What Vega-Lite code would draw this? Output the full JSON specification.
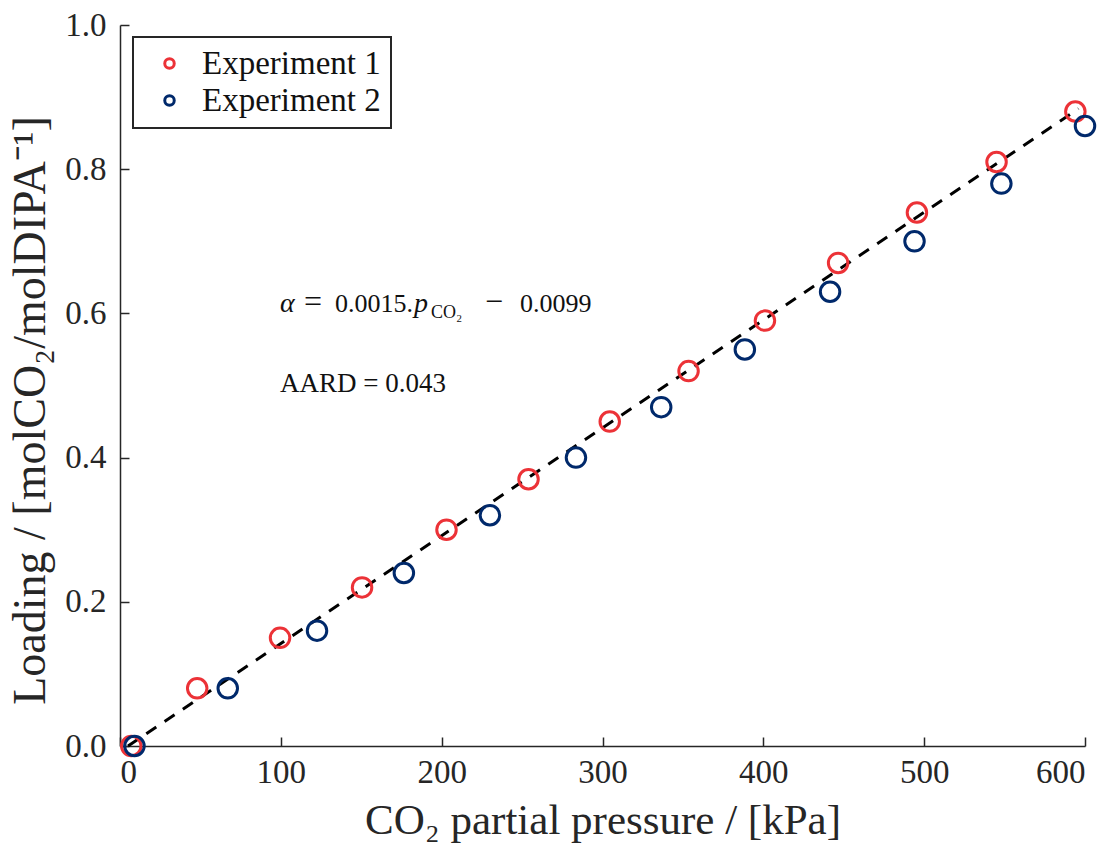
{
  "$schema": "https://vega.github.io/schema/vega-lite/v6.json",
  "autosize": {"type": "none"},
  "width": 965,
  "height": 721,
  "padding": {"left": 120, "top": 25, "right": 29, "bottom": 97},
  "background": "white",
  "config": {
    "view": {"stroke": null},
    "font": "Liberation Serif",
    "axis": {
      "grid": false,
      "domainColor": "#262626",
      "domainWidth": 1.5,
      "tickColor": "#262626",
      "tickWidth": 1.5,
      "tickSize": -9,
      "labelFont": "Liberation Serif",
      "labelFontSize": 33,
      "labelColor": "#262626",
      "titleFont": "Liberation Serif",
      "titleFontSize": 43,
      "titleFontWeight": "normal",
      "titleColor": "#262626"
    },
    "legend": {
      "orient": "none",
      "legendX": 13,
      "legendY": 12,
      "strokeColor": "#262626",
      "strokeWidth": 2,
      "fillColor": "white",
      "padding": 10,
      "labelFont": "Liberation Serif",
      "labelFontSize": 33,
      "labelLimit": 400,
      "labelColor": "#111111",
      "title": null,
      "symbolStrokeWidth": 3,
      "symbolSize": 90,
      "symbolOffset": 10,
      "rowPadding": 3,
      "labelOffset": 16
    }
  },
  "datasets": {
    "points": [
      {"series": "Experiment 1", "pressure": 7, "loading": 0.0},
      {"series": "Experiment 1", "pressure": 48, "loading": 0.08},
      {"series": "Experiment 1", "pressure": 99.5, "loading": 0.15},
      {"series": "Experiment 1", "pressure": 150.5, "loading": 0.22},
      {"series": "Experiment 1", "pressure": 203, "loading": 0.30},
      {"series": "Experiment 1", "pressure": 254, "loading": 0.37},
      {"series": "Experiment 1", "pressure": 304.5, "loading": 0.45},
      {"series": "Experiment 1", "pressure": 353.5, "loading": 0.52},
      {"series": "Experiment 1", "pressure": 401, "loading": 0.59},
      {"series": "Experiment 1", "pressure": 446.5, "loading": 0.67},
      {"series": "Experiment 1", "pressure": 495.5, "loading": 0.74},
      {"series": "Experiment 1", "pressure": 545, "loading": 0.81},
      {"series": "Experiment 1", "pressure": 594, "loading": 0.88},
      {"series": "Experiment 2", "pressure": 9, "loading": 0.0},
      {"series": "Experiment 2", "pressure": 67, "loading": 0.08},
      {"series": "Experiment 2", "pressure": 122.5, "loading": 0.16},
      {"series": "Experiment 2", "pressure": 176.5, "loading": 0.24},
      {"series": "Experiment 2", "pressure": 230, "loading": 0.32},
      {"series": "Experiment 2", "pressure": 283.5, "loading": 0.40},
      {"series": "Experiment 2", "pressure": 336.5, "loading": 0.47},
      {"series": "Experiment 2", "pressure": 388.5, "loading": 0.55},
      {"series": "Experiment 2", "pressure": 441.5, "loading": 0.63},
      {"series": "Experiment 2", "pressure": 494, "loading": 0.70},
      {"series": "Experiment 2", "pressure": 548, "loading": 0.78},
      {"series": "Experiment 2", "pressure": 600, "loading": 0.86}
    ],
    "fit": [
      {"pressure": 5, "loading": 0.0},
      {"pressure": 596, "loading": 0.884}
    ]
  },
  "layer": [
    {
      "data": {"name": "fit"},
      "mark": {"type": "line", "color": "black", "strokeWidth": 3, "strokeDash": [12, 10]},
      "encoding": {
        "x": {"field": "pressure", "type": "quantitative", "scale": {"domain": [0, 600], "nice": false, "zero": false},
              "axis": {"title": "CO₂ partial pressure / [kPa]", "values": [0, 100, 200, 300, 400, 500, 600], "format": "d", "labelPadding": 19, "titlePadding": 10}},
        "y": {"field": "loading", "type": "quantitative", "scale": {"domain": [0, 1], "nice": false},
              "axis": {"title": "Loading / [molCO₂/molDIPA⁻¹]", "titleFontSize": 46, "titleY": 385, "values": [0, 0.2, 0.4, 0.6, 0.8, 1.0], "format": ".1f", "labelPadding": 23, "titlePadding": 10}}
      }
    },
    {
      "data": {"name": "points"},
      "mark": {"type": "point", "shape": "circle", "filled": false, "strokeWidth": 3, "size": 380, "opacity": 1},
      "encoding": {
        "x": {"field": "pressure", "type": "quantitative"},
        "y": {"field": "loading", "type": "quantitative"},
        "color": {"field": "series", "type": "nominal",
                  "scale": {"domain": ["Experiment 1", "Experiment 2"], "range": ["#EC3237", "#00296B"]},
                  "legend": {"symbolType": "circle"}}
      }
    },
    {
      "data": {"values": [{"pressure": 99.5, "loading": 0.491, "label": "AARD = 0.043"}]},
      "mark": {"type": "text", "align": "left", "baseline": "alphabetic", "fontSize": 27, "color": "#111111"},
      "encoding": {
        "x": {"field": "pressure", "type": "quantitative"},
        "y": {"field": "loading", "type": "quantitative"},
        "text": {"field": "label"}
      }
    },
    {
      "data": {"values": [{"pressure": 99.5, "loading": 0.602, "label": "α"}]},
      "mark": {"type": "text", "align": "left", "baseline": "alphabetic", "fontSize": 28, "fontStyle": "italic", "color": "#111111"},
      "encoding": {
        "x": {"field": "pressure", "type": "quantitative"},
        "y": {"field": "loading", "type": "quantitative"},
        "text": {"field": "label"}
      }
    },
    {
      "data": {"values": [{"pressure": 99.5, "loading": 0.602, "label": "="}]},
      "mark": {"type": "text", "align": "left", "baseline": "alphabetic", "fontSize": 32, "color": "#111111", "dx": 24},
      "encoding": {
        "x": {"field": "pressure", "type": "quantitative"},
        "y": {"field": "loading", "type": "quantitative"},
        "text": {"field": "label"}
      }
    },
    {
      "data": {"values": [{"pressure": 99.5, "loading": 0.602, "label": "0.0015."}]},
      "mark": {"type": "text", "align": "left", "baseline": "alphabetic", "fontSize": 26, "color": "#111111", "dx": 55},
      "encoding": {
        "x": {"field": "pressure", "type": "quantitative"},
        "y": {"field": "loading", "type": "quantitative"},
        "text": {"field": "label"}
      }
    },
    {
      "data": {"values": [{"pressure": 99.5, "loading": 0.602, "label": "p"}]},
      "mark": {"type": "text", "align": "left", "baseline": "alphabetic", "fontSize": 28, "fontStyle": "italic", "color": "#111111", "dx": 134},
      "encoding": {
        "x": {"field": "pressure", "type": "quantitative"},
        "y": {"field": "loading", "type": "quantitative"},
        "text": {"field": "label"}
      }
    },
    {
      "data": {"values": [{"pressure": 99.5, "loading": 0.602, "label": "CO₂"}]},
      "mark": {"type": "text", "align": "left", "baseline": "alphabetic", "fontSize": 18, "color": "#111111", "dx": 151, "dy": 6},
      "encoding": {
        "x": {"field": "pressure", "type": "quantitative"},
        "y": {"field": "loading", "type": "quantitative"},
        "text": {"field": "label"}
      }
    },
    {
      "data": {"values": [{"pressure": 99.5, "loading": 0.602, "label": "−"}]},
      "mark": {"type": "text", "align": "left", "baseline": "alphabetic", "fontSize": 32, "color": "#111111", "dx": 205},
      "encoding": {
        "x": {"field": "pressure", "type": "quantitative"},
        "y": {"field": "loading", "type": "quantitative"},
        "text": {"field": "label"}
      }
    },
    {
      "data": {"values": [{"pressure": 99.5, "loading": 0.602, "label": "0.0099"}]},
      "mark": {"type": "text", "align": "left", "baseline": "alphabetic", "fontSize": 26, "color": "#111111", "dx": 240},
      "encoding": {
        "x": {"field": "pressure", "type": "quantitative"},
        "y": {"field": "loading", "type": "quantitative"},
        "text": {"field": "label"}
      }
    }
  ]
}
